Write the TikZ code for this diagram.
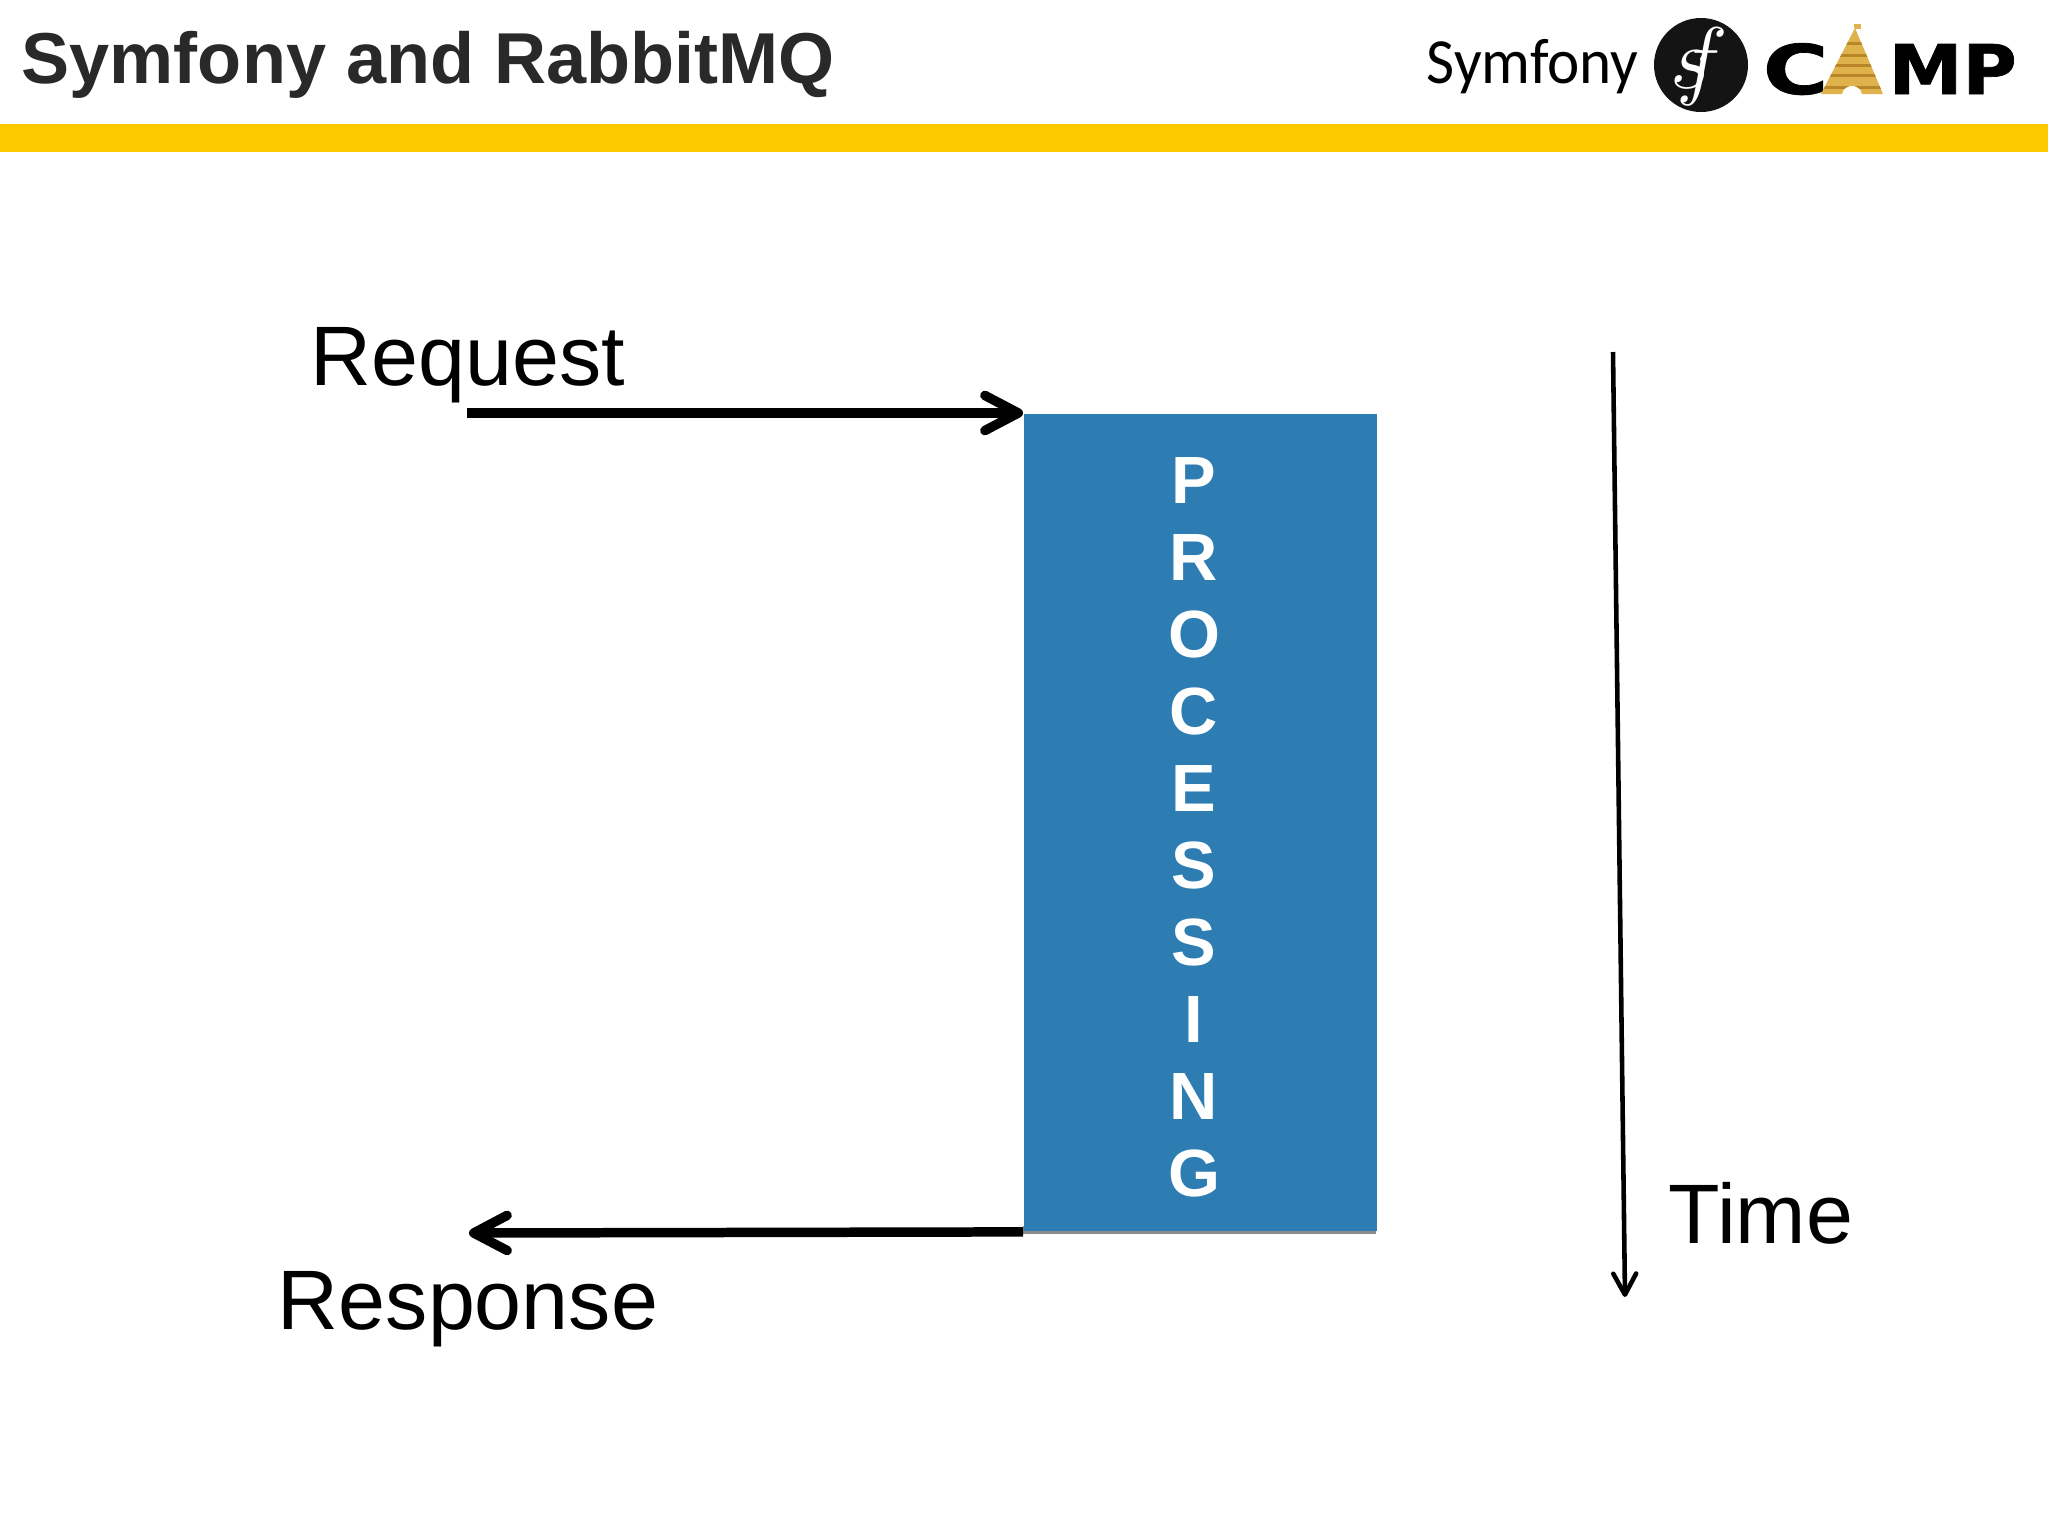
\documentclass[tikz,border=0pt]{standalone}
\usepackage{xcolor}
\usepackage{fontspec}
\setmainfont{Liberation Sans}
\newfontfamily\logofont{Carlito}
\newfontfamily\campfont[BoldFeatures={FakeBold=1}]{DejaVu Sans}
\usepackage{tikz}
\usetikzlibrary{arrows.meta}
\definecolor{headergold}{rgb}{1.0, 0.79, 0.0}
\definecolor{boxblue}{rgb}{0.18, 0.49, 0.70}
\definecolor{titlegray}{rgb}{0.16, 0.16, 0.16}
\definecolor{tentgold}{rgb}{0.88, 0.70, 0.30}
\definecolor{tentdark}{rgb}{0.72, 0.52, 0.16}
\newcommand{\pxfont}[2]{\fontsize{#1}{#2}\selectfont}
\tikzset{
	labeltext/.style={anchor=base, inner sep=0, text=black, font=\pxfont{24}{28}},
	bigarrow/.style={line width=2.7pt, -{Straight Barb[round, length=9.5pt, width=10pt, line width=2.7pt]}},
	thinarrow/.style={line width=1.3pt, -{Straight Barb[round, length=6pt, width=6.5pt, line width=1.3pt]}},
	camptext/.style={anchor=base west, inner sep=0, text=black, font=\campfont\bfseries\pxfont{19.5}{24}}
}

\begin{document}
\begin{tikzpicture}[x=0.01cm, y=-0.01cm]
	\useasboundingbox (0,0) rectangle (2048,1536);
	\fill[white] (0,0) rectangle (2048,1536);

	% header
	\node[anchor=base west, inner sep=0, text=titlegray, font=\bfseries\pxfont{20.5}{24}] (title) at (21,83) {Symfony and RabbitMQ};
	\fill[headergold] (0,124) rectangle (2048,152);

	% logo
	\node[anchor=base west, inner sep=0, text=black, xscale=0.95, font=\logofont\pxfont{18.3}{24}] (logoname) at (1426,83) {Symfony};
	\fill[black!92] (1701,65) circle (47);
	\node[inner sep=0, text=white, font=\pxfont{32}{32}] (logosf) at (1699,67) {$s\mkern-7mu f$};
	\node[camptext, xscale=1.3] (campc) at (1762,94) {C};
	\node[camptext, xscale=1.08] (campmp) at (1888,94) {MP};
	\begin{scope}
		\clip (1855,28) -- (1883,94) -- (1862,94) .. controls (1860,83) and (1844,83) .. (1842,94) -- (1821,94) -- cycle;
		\fill[tentgold] (1815,25) rectangle (1890,95);
		\foreach \stripey in {42,54,64,74,86}
			\fill[tentdark] (1815,\stripey) rectangle (1890,\stripey+3);
	\end{scope}
	\draw[tentgold, line width=0.6pt] (1855,28) -- (1855,24);
	\fill[tentgold] (1855,24) rectangle (1861,29);

	% processing box
	\fill[black!45] (1023,1226) rectangle (1376,1234);
	\node[draw=none, fill=boxblue, anchor=north west, minimum width=3.53cm, minimum height=8.17cm, inner sep=0] (procbox) at (1023,413) {};
	\node[anchor=north, inner sep=0, text=white, align=center, font=\bfseries\pxfont{19}{21.9}] (proctext) at (1194,457) {P\\R\\O\\C\\E\\S\\S\\I\\N\\G};

	% request and response
	\node[labeltext] (request) at (468,385) {Request};
	\node[labeltext] (response) at (468,1329) {Response};
	\coordinate (reqstart) at (467,413);
	\coordinate (respend) at (469,1233);
	\draw[bigarrow] (reqstart) -- (procbox.north west);
	\draw[bigarrow] (procbox.south west) -- (respend);

	% time
	\coordinate (timestart) at (1613,352);
	\coordinate (timeend) at (1625,1297);
	\draw[thinarrow] (timestart) -- (timeend);
	\node[labeltext] (time) at (1761,1243) {Time};
\end{tikzpicture}
\end{document}
